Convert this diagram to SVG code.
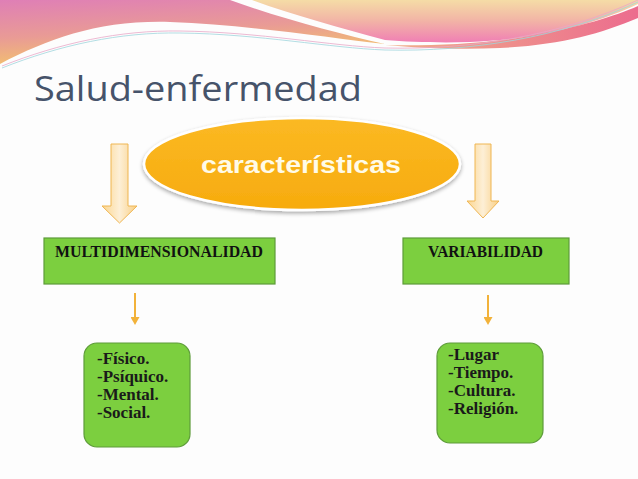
<svg xmlns="http://www.w3.org/2000/svg" width="638" height="479" viewBox="0 0 638 479">
<defs>
<linearGradient id="gLeft" x1="0" y1="0" x2="0.3" y2="1">
<stop offset="0" stop-color="#df7fb6"/>
<stop offset="0.55" stop-color="#e99b95"/>
<stop offset="1" stop-color="#f3c36c"/>
</linearGradient>
<linearGradient id="gRight" x1="0" y1="0" x2="0" y2="1">
<stop offset="0" stop-color="#f5dca6"/>
<stop offset="0.5" stop-color="#f2b3a6"/>
<stop offset="1" stop-color="#f07fb4"/>
</linearGradient>
<linearGradient id="gBand" x1="0" y1="0" x2="1" y2="0">
<stop offset="0" stop-color="#f0b08a"/>
<stop offset="1" stop-color="#ec6c8e"/>
</linearGradient>
<linearGradient id="gEll" x1="0" y1="0" x2="0" y2="1">
<stop offset="0" stop-color="#fbb923"/>
<stop offset="1" stop-color="#f7ab0e"/>
</linearGradient>
<linearGradient id="gArrow" x1="0" y1="0" x2="1" y2="0">
<stop offset="0" stop-color="#fbd690"/>
<stop offset="0.5" stop-color="#fdefd6"/>
<stop offset="1" stop-color="#f9cf84"/>
</linearGradient>
<filter id="sh" x="-10%" y="-10%" width="120%" height="130%">
<feGaussianBlur in="SourceAlpha" stdDeviation="2"/>
<feOffset dx="0" dy="2" result="b"/>
<feComponentTransfer><feFuncA type="linear" slope="0.35"/></feComponentTransfer>
<feMerge><feMergeNode/><feMergeNode in="SourceGraphic"/></feMerge>
</filter>
<marker id="ah" markerWidth="9" markerHeight="9" refX="5" refY="4.5" orient="auto" markerUnits="userSpaceOnUse">
<path d="M0,0 L8,4.5 L0,9 Z" fill="#f2b23a"/>
</marker>
<style>
.box{fill:#7ccf3f;stroke:#5e9c3a;stroke-width:1.2}
.hdr{font-family:"Liberation Serif",serif;font-weight:bold;font-size:16px;fill:#111}
.item{font-family:"Liberation Serif",serif;font-weight:bold;font-size:17px;fill:#1a1a1a}
.blk{fill:url(#gArrow);stroke:#efb653;stroke-width:1}
.thin{stroke:#f2b23a;stroke-width:2;fill:none}
</style>
</defs>

<rect width="638" height="479" fill="#fdfdfd"/>

<g id="header-deco">
<path d="M0,0 L230,0 C280,18 340,34 385,44 C330,38 250,25 170,22 C100,20 50,38 0,64 Z" fill="url(#gLeft)"/>
<path d="M252,0 L638,0 L638,4 C600,22 540,40 470,42 C440,43 410,42 385,40 C340,28 290,14 252,0 Z" fill="url(#gRight)"/>
<path d="M385,45 C430,46 480,44 530,36 C580,27 615,16 638,6 L638,18 C600,34 560,45 500,48 C460,50 420,48 385,45 Z" fill="url(#gBand)"/>
<path d="M2,68 C60,45 120,32 180,33 C260,34 330,48 385,50 C470,52 560,38 638,2" fill="none" stroke="#9fd6dd" stroke-width="0.8"/>
<path d="M2,66 C60,43 120,30 180,31 C260,32 330,46 385,48 C470,50 560,36 638,0" fill="none" stroke="#e9a8c8" stroke-width="0.8"/>
</g>

<text id="title" x="34" y="101" font-family="'Open Sans','Liberation Sans',sans-serif" font-size="35" fill="#46536a" textLength="328" lengthAdjust="spacingAndGlyphs">Salud-enfermedad</text>

<g id="caracteristicas">
<ellipse cx="302" cy="164" rx="158" ry="46" fill="url(#gEll)" stroke="#ffffff" stroke-width="2.5" filter="url(#sh)"/>
<text x="301" y="173" text-anchor="middle" font-family="'Liberation Sans',Arial,sans-serif" font-weight="bold" font-size="23" fill="#fffbe8" textLength="200" lengthAdjust="spacingAndGlyphs">características</text>
</g>

<g id="connectors">
<path class="blk" d="M111,144 L128,144 L128,206 L137,206 L119.5,223 L102,206 L111,206 Z"/>
<path class="blk" d="M475,144 L491,144 L491,201 L499,201 L483,218 L467,201 L475,201 Z"/>
<line class="thin" x1="135" y1="293" x2="135" y2="322" marker-end="url(#ah)"/>
<line class="thin" x1="488" y1="295" x2="488" y2="322" marker-end="url(#ah)"/>
</g>

<g id="multidimensionalidad">
<rect class="box" x="44" y="238" width="231" height="46"/>
<text class="hdr" x="55" y="257" textLength="208" lengthAdjust="spacingAndGlyphs">MULTIDIMENSIONALIDAD</text>
</g>

<g id="variabilidad">
<rect class="box" x="403" y="238" width="166" height="46"/>
<text class="hdr" x="428" y="257" textLength="115" lengthAdjust="spacingAndGlyphs">VARIABILIDAD</text>
</g>

<g id="lista-dimensiones">
<rect class="box" x="84" y="343" width="106" height="104" rx="13"/>
<text class="item" x="97" y="364">-Físico.</text>
<text class="item" x="97" y="382">-Psíquico.</text>
<text class="item" x="97" y="400">-Mental.</text>
<text class="item" x="97" y="418">-Social.</text>
</g>

<g id="lista-variabilidad">
<rect class="box" x="437" y="343" width="106" height="100" rx="13"/>
<text class="item" x="448" y="360">-Lugar</text>
<text class="item" x="448" y="378">-Tiempo.</text>
<text class="item" x="448" y="396">-Cultura.</text>
<text class="item" x="448" y="414">-Religión.</text>
</g>
</svg>
